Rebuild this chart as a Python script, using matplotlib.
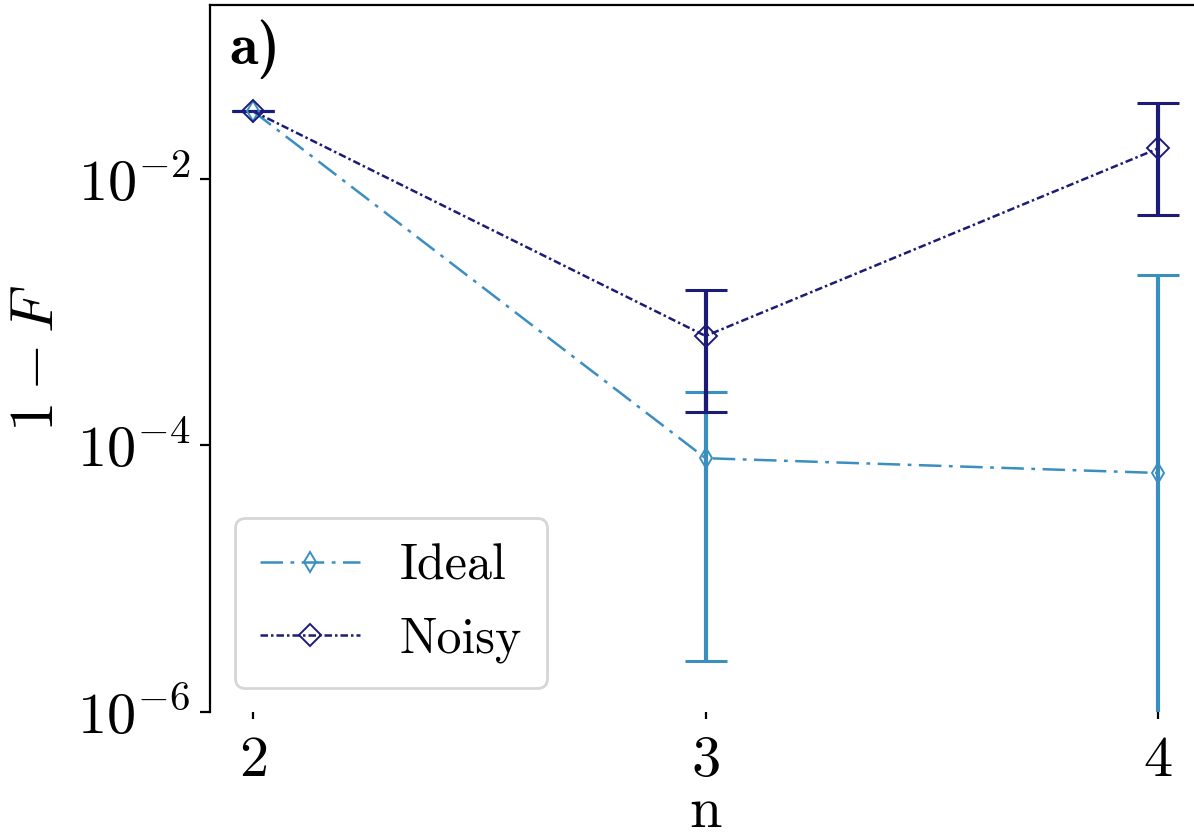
import numpy as np
import matplotlib
matplotlib.use("Agg")
import matplotlib.pyplot as plt

plt.rcParams["font.family"] = "serif"
plt.rcParams["font.serif"] = ["cmr10", "DejaVu Serif"]
plt.rcParams["mathtext.fontset"] = "cm"
plt.rcParams["axes.formatter.use_mathtext"] = True

# data
n = [2, 3, 4]
ideal = [3.2e-2, 8.0e-5, 6.2e-5]
ideal_lo = [3.2e-2, 2.4e-6, 1e-9]
ideal_hi = [3.2e-2, 2.5e-4, 1.9e-3]
noisy = [3.2e-2, 6.6e-4, 1.68e-2]
noisy_lo = [3.2e-2, 1.77e-4, 5.3e-3]
noisy_hi = [3.2e-2, 1.47e-3, 3.7e-2]

c_ideal = "#3a8fc0"
c_noisy = "#1c1c78"

fig = plt.figure(figsize=(5.97, 4.2), dpi=200)
ax = fig.add_axes([0.1759, 0.1524, 0.8300, 0.8416])

ideal = np.array(ideal)
noisy = np.array(noisy)
yerr_i = [ideal - np.array(ideal_lo), np.array(ideal_hi) - ideal]
yerr_n = [noisy - np.array(noisy_lo), np.array(noisy_hi) - noisy]

ax.errorbar(n, ideal, yerr=yerr_i, fmt="none", ecolor=c_ideal,
            elinewidth=1.5, capsize=7.4, capthick=1.1, zorder=2)
ax.errorbar(n, noisy, yerr=yerr_n, fmt="none", ecolor=c_noisy,
            elinewidth=1.5, capsize=7.4, capthick=1.1, zorder=3)

ax.plot(n, ideal, color=c_ideal, lw=0.9, ls=(0, (9, 3, 1.5, 3)),
        marker="d", ms=5, mfc="none", mew=0.7, label="Ideal", zorder=4)
ax.plot(n, noisy, color=c_noisy, lw=0.9, ls=(0, (3, 1.2, 1, 1.2)),
        marker="D", ms=5.5, mfc="none", mew=0.7, label="Noisy", zorder=5)

ax.set_yscale("log")
ax.set_ylim(1e-6, 0.2)
ax.set_xlim(1.905, 4.095)
ax.set_yticks([1e-6, 1e-4, 1e-2])
ax.yaxis.set_minor_locator(matplotlib.ticker.NullLocator())
ax.set_xticks(n)
ax.tick_params(labelsize=21, length=3.5, width=0.8)
ax.tick_params(axis="x", length=2.5, pad=6)

ax.spines["bottom"].set_visible(False)
ax.spines["right"].set_visible(False)
for s in ["left", "top"]:
    ax.spines[s].set_linewidth(0.8)

ax.set_xlabel("n", fontsize=21, labelpad=0)
ax.set_ylabel(r"$1-F$", fontsize=22, labelpad=4)

ax.text(0.02, 0.98, "a)", transform=ax.transAxes, fontfamily="cmb10",
        fontsize=21, va="top", ha="left")

ax.legend(loc="lower left", bbox_to_anchor=(0.025, 0.034), borderaxespad=0,
          fontsize=18, handlelength=2.0, handletextpad=0.8, labelspacing=0.55,
          borderpad=0.5, frameon=True, fancybox=True, edgecolor="#cccccc")

fig.savefig("out.png", dpi=200)
